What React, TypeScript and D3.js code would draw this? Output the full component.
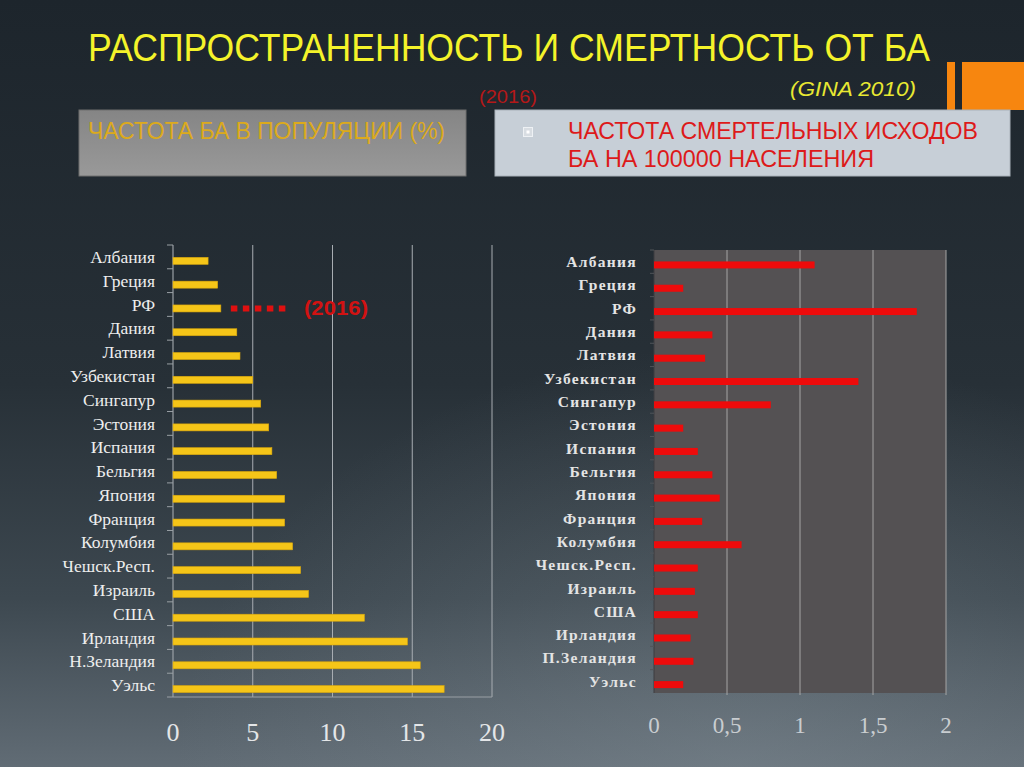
import React from "react";
import * as d3 from "d3";

const countries = [
  "Албания", "Греция", "РФ", "Дания", "Латвия", "Узбекистан", "Сингапур",
  "Эстония", "Испания", "Бельгия", "Япония", "Франция", "Колумбия",
  "Чешск.Респ.", "Израиль", "США", "Ирландия", "Н.Зеландия", "Уэльс",
];
const countriesRight = [
  "Албания", "Греция", "РФ", "Дания", "Латвия", "Узбекистан", "Сингапур",
  "Эстония", "Испания", "Бельгия", "Япония", "Франция", "Колумбия",
  "Чешск.Респ.", "Израиль", "США", "Ирландия", "П.Зеландия", "Уэльс",
];
const prevalence = [2.2, 2.8, 3.0, 4.0, 4.2, 5.0, 5.5, 6.0, 6.2, 6.5, 7.0, 7.0, 7.5, 8.0, 8.5, 12.0, 14.7, 15.5, 17.0];
const mortality = [1.1, 0.2, 1.8, 0.4, 0.35, 1.4, 0.8, 0.2, 0.3, 0.4, 0.45, 0.33, 0.6, 0.3, 0.28, 0.3, 0.25, 0.27, 0.2];
const leftTicks = [0, 5, 10, 15, 20];
const rightTicks = [0, 0.5, 1, 1.5, 2];
const rightTickLabels = ["0", "0,5", "1", "1,5", "2"];

const title = "РАСПРОСТРАНЕННОСТЬ И СМЕРТНОСТЬ ОТ БА";
const source = "(GINA 2010)";
const yearNote = "(2016)";
const leftHeader = "ЧАСТОТА БА В ПОПУЛЯЦИИ (%)";
const rightHeader1 = "ЧАСТОТА СМЕРТЕЛЬНЫХ ИСХОДОВ";
const rightHeader2 = "БА НА 100000 НАСЕЛЕНИЯ";
const rfNote = "(2016)";

const narrow = "'Liberation Sans Narrow', 'Arial Narrow', 'Liberation Sans', Arial, sans-serif";
const serif = "'Liberation Serif', 'Times New Roman', 'DejaVu Serif', serif";

export default function App() {
  const xL = d3.scaleLinear().domain([0, 20]).range([173, 492]);
  const yL = d3.scaleBand<string>().domain(countries).range([245, 697]);
  const xR = d3.scaleLinear().domain([0, 2]).range([654, 946]);
  const yR = d3.scaleBand<string>().domain(countriesRight).range([250, 693]);
  const bwL = yL.bandwidth();
  const bwR = yR.bandwidth();
  const barH = 7;

  const rfY = (yL("РФ") as number) + bwL * 0.52 + barH / 2;
  const rfX = xL(prevalence[2]);

  return (
    <svg width={1024} height={767} style={{ position: "absolute", left: 0, top: 0, display: "block" }}>
      <defs>
        <linearGradient id="bg" x1="0" y1="0" x2="0" y2="1">
          <stop offset="0" stopColor="#1d252c" />
          <stop offset="0.5" stopColor="#273037" />
          <stop offset="0.78" stopColor="#3d4850" />
          <stop offset="1" stopColor="#616c75" />
        </linearGradient>
        <radialGradient id="glow" cx="0.72" cy="1" r="0.55">
          <stop offset="0" stopColor="#8a969e" stopOpacity="0.35" />
          <stop offset="1" stopColor="#8a969e" stopOpacity="0" />
        </radialGradient>
        <linearGradient id="leftBox" x1="0" y1="0" x2="0" y2="1">
          <stop offset="0" stopColor="#858585" />
          <stop offset="1" stopColor="#999999" />
        </linearGradient>
      </defs>
      <rect x={0} y={0} width={1024} height={767} fill="url(#bg)" />
      <rect x={0} y={0} width={1024} height={767} fill="url(#glow)" />

      {/* orange decoration */}
      <rect x={947} y={62} width={8} height={48} fill="#f7860f" />
      <rect x={962} y={62} width={62} height={48} fill="#f7860f" />

      {/* title */}
      <text x={88} y={61} fontFamily={narrow} fontSize={38} fill="#f4f32a" textLength={842} lengthAdjust="spacingAndGlyphs">{title}</text>
      <text x={790} y={96} fontFamily={narrow} fontSize={21} fontStyle="italic" fill="#e8e832" textLength={126} lengthAdjust="spacingAndGlyphs">{source}</text>
      <text x={479} y={103} fontFamily={narrow} fontSize={18} fill="#b41818" textLength={58} lengthAdjust="spacingAndGlyphs">{yearNote}</text>

      {/* header boxes */}
      <rect x={79} y={110} width={387} height={66} fill="url(#leftBox)" stroke="#6e6e6e" strokeWidth={1} />
      <text x={88} y={139} fontFamily={narrow} fontSize={24} fill="#dcaa1c" textLength={357} lengthAdjust="spacingAndGlyphs">{leftHeader}</text>
      <rect x={495} y={110} width={515} height={66} fill="#c7cfd7" stroke="#aab2ba" strokeWidth={1} />
      <rect x={523.5} y={127.5} width={9} height={9} fill="#d8dde2" stroke="#eef1f4" strokeWidth={1} />
      <rect x={526.5} y={130.5} width={3} height={3} fill="#ffffff" />
      <text x={568} y={139} fontFamily={narrow} fontSize={24} fill="#dd1a1a" textLength={410} lengthAdjust="spacingAndGlyphs">{rightHeader1}</text>
      <text x={568} y={167} fontFamily={narrow} fontSize={24} fill="#dd1a1a" textLength={306} lengthAdjust="spacingAndGlyphs">{rightHeader2}</text>

      {/* LEFT CHART */}
      {leftTicks.filter((t) => t > 0).map((t) => (
        <line key={"gl" + t} x1={xL(t)} x2={xL(t)} y1={245} y2={697} stroke="#a8adb2" strokeWidth={1} />
      ))}
      <line x1={xL(0)} x2={xL(0)} y1={245} y2={697} stroke="#9aa0a5" strokeWidth={1.2} />
      <line x1={167} x2={xL(20)} y1={697} y2={697} stroke="#9aa0a5" strokeWidth={1} />
      {countries.map((c) => (
        <line key={"tl" + c} x1={167} x2={173} y1={yL(c) as number} y2={yL(c) as number} stroke="#9aa0a5" strokeWidth={1} />
      ))}
      {countries.map((c, i) => (
        <rect key={"bl" + c} x={xL(0)} y={(yL(c) as number) + bwL * 0.52} width={xL(prevalence[i]) - xL(0)} height={barH} fill="#f5c518" stroke="#d9a70c" strokeWidth={0.6} />
      ))}
      {countries.map((c) => (
        <text key={"ll" + c} x={155} y={(yL(c) as number) + bwL / 2} dy="0.35em" textAnchor="end" fontFamily={serif} fontSize={17.5} fill="#eeeeee">{c}</text>
      ))}
      {leftTicks.map((t) => (
        <text key={"xl" + t} x={xL(t)} y={741} textAnchor="middle" fontFamily={serif} fontSize={26} fill="#e4e6e8">{t}</text>
      ))}
      {/* RF note */}
      <line x1={rfX + 10} x2={rfX + 70} y1={rfY} y2={rfY} stroke="#e01010" strokeWidth={6} strokeDasharray="6.5 5.5" />
      <text x={304} y={rfY} dy="0.35em" fontFamily="'Liberation Sans', Arial, sans-serif" fontWeight={700} fontSize={20} fill="#d21212" textLength={64} lengthAdjust="spacingAndGlyphs">{rfNote}</text>

      {/* RIGHT CHART */}
      <rect x={xR(0)} y={250} width={xR(2) - xR(0)} height={443} fill="#545153" />
      {rightTicks.filter((t) => t > 0).map((t) => (
        <line key={"gr" + t} x1={xR(t)} x2={xR(t)} y1={250} y2={695} stroke="#a5a5a5" strokeWidth={1} />
      ))}
      <line x1={xR(0)} x2={xR(0)} y1={250} y2={693} stroke="#3c3d40" strokeWidth={1} />
      {countriesRight.map((c) => (
        <line key={"tr" + c} x1={650} x2={654} y1={yR(c) as number} y2={yR(c) as number} stroke="#505459" strokeWidth={1} />
      ))}
      {countriesRight.map((c, i) => (
        <rect key={"br" + c} x={xR(0)} y={(yR(c) as number) + bwR * 0.49} width={xR(mortality[i]) - xR(0)} height={barH} fill="#ee0b0b" />
      ))}
      {countriesRight.map((c) => (
        <text key={"lr" + c} x={637} y={(yR(c) as number) + bwR / 2} dy="0.35em" textAnchor="end" fontFamily={serif} fontWeight="bold" fontSize={15.5} letterSpacing={1.3} fill="#e4e4e4">{c}</text>
      ))}
      {rightTicks.map((t, i) => (
        <text key={"xr" + t} x={xR(t)} y={733} textAnchor="middle" fontFamily={serif} fontSize={23} fill="#c9cdd0">{rightTickLabels[i]}</text>
      ))}
    </svg>
  );
}
